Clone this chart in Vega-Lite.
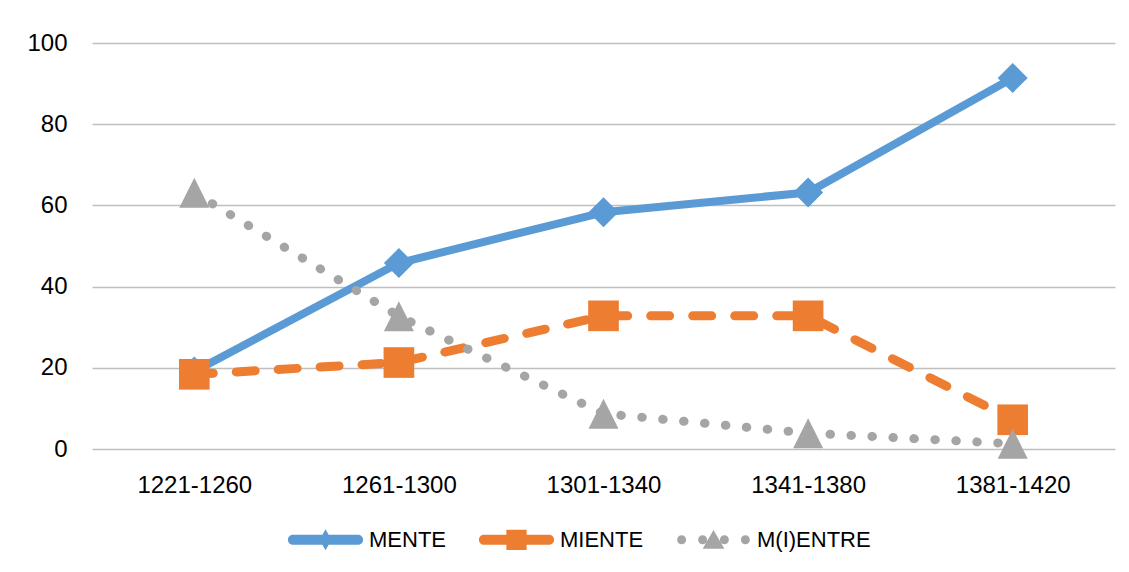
{
  "$schema": "https://vega.github.io/schema/vega-lite/v6.json",
  "width": 1023,
  "height": 406,
  "autosize": {"type": "none"},
  "padding": {"left": 92, "top": 43, "right": 14, "bottom": 123},
  "background": "white",
  "config": {"view": {"stroke": null}, "font": "Liberation Sans"},
  "data": {
    "values": [
      {"period": "1221-1260", "series": "MENTE", "value": 19.1},
      {"period": "1261-1300", "series": "MENTE", "value": 45.8},
      {"period": "1301-1340", "series": "MENTE", "value": 58.3},
      {"period": "1341-1380", "series": "MENTE", "value": 63.2},
      {"period": "1381-1420", "series": "MENTE", "value": 91.4},
      {"period": "1221-1260", "series": "MIENTE", "value": 18.4},
      {"period": "1261-1300", "series": "MIENTE", "value": 21.3},
      {"period": "1301-1340", "series": "MIENTE", "value": 32.8},
      {"period": "1341-1380", "series": "MIENTE", "value": 32.8},
      {"period": "1381-1420", "series": "MIENTE", "value": 7.2},
      {"period": "1221-1260", "series": "M(I)ENTRE", "value": 63.1},
      {"period": "1261-1300", "series": "M(I)ENTRE", "value": 32.7},
      {"period": "1301-1340", "series": "M(I)ENTRE", "value": 8.7},
      {"period": "1341-1380", "series": "M(I)ENTRE", "value": 3.9},
      {"period": "1381-1420", "series": "M(I)ENTRE", "value": 1.3}
    ]
  },
  "encoding": {
    "x": {
      "field": "period", "type": "ordinal",
      "scale": {"domain": ["1221-1260", "1261-1300", "1301-1340", "1341-1380", "1381-1420"]},
      "axis": {"title": null, "labelAngle": 0, "domain": false, "ticks": false, "tickSize": 0, "grid": false,
               "labelFontSize": 24, "labelFont": "Liberation Sans", "labelColor": "#000000", "labelPadding": 24}
    },
    "y": {
      "field": "value", "type": "quantitative",
      "scale": {"domain": [0, 100], "nice": false, "zero": true},
      "axis": {"title": null, "values": [0, 20, 40, 60, 80, 100], "domain": false, "ticks": false, "tickSize": 0,
               "grid": true, "gridColor": "#BFBFBF", "gridWidth": 1.3,
               "labelFontSize": 24, "labelFont": "Liberation Sans", "labelColor": "#000000", "labelPadding": 25}
    }
  },
  "layer": [
    {
      "transform": [{"filter": "datum.series === 'MENTE'"}],
      "mark": {"type": "line", "strokeWidth": 8, "strokeCap": "round", "strokeJoin": "round", "color": "#5B9BD5"},
      "encoding": {}
    },
    {
      "transform": [{"filter": "datum.series === 'MIENTE'"}],
      "mark": {"type": "line", "strokeWidth": 9, "strokeCap": "round", "strokeJoin": "round", "color": "#ED7D31", "strokeDash": [19, 23]},
      "encoding": {}
    },
    {
      "transform": [{"filter": "datum.series === 'M(I)ENTRE'"}],
      "mark": {"type": "line", "strokeWidth": 9, "strokeCap": "round", "strokeJoin": "round", "color": "#A5A5A5", "strokeDash": [0.5, 20.5]},
      "encoding": {}
    },
    {
      "transform": [{"filter": "datum.series === 'MENTE'"}],
      "mark": {"type": "point", "shape": "diamond", "filled": true, "size": 900, "color": "#5B9BD5", "opacity": 1, "strokeWidth": 0}
    },
    {
      "transform": [{"filter": "datum.series === 'MIENTE'"}],
      "mark": {"type": "point", "shape": "square", "filled": true, "size": 940, "color": "#ED7D31", "opacity": 1, "strokeWidth": 0}
    },
    {
      "transform": [{"filter": "datum.series === 'M(I)ENTRE'"}],
      "mark": {"type": "point", "shape": "M0,-1 L1,1 L-1,1 Z", "filled": true, "size": 900, "color": "#A5A5A5", "opacity": 1, "strokeWidth": 0}
    },
    {
      "mark": {"type": "point", "filled": true, "opacity": 0, "strokeWidth": 0},
      "encoding": {
        "color": {"field": "series", "type": "nominal",
                  "scale": {"domain": ["MENTE", "MIENTE", "M(I)ENTRE"], "range": ["#5B9BD5", "#ED7D31", "#A5A5A5"]},
                  "legend": {"title": null, "orient": "none", "direction": "horizontal", "legendX": 196, "legendY": 459,
                             "labelFontSize": 22, "labelFont": "Liberation Sans", "labelColor": "#000000",
                             "symbolSize": 5625, "labelOffset": 6, "columnPadding": 32, "symbolStrokeWidth": 0,
                             "symbolOpacity": 1,
                             "encode": {"symbols": {"update": {"opacity": {"value": 1}}}}}},
        "shape": {"field": "series", "type": "nominal",
                  "scale": {"domain": ["MENTE", "MIENTE", "M(I)ENTRE"],
                            "range": [
                              "M-0.87,-0.133 L0.87,-0.133 A0.133,0.133 0 0 1 0.87,0.133 L-0.87,0.133 A0.133,0.133 0 0 1 -0.87,-0.133 Z M0,-0.28 L0.16,0 L0,0.28 L-0.16,0 Z",
                              "M-0.87,-0.133 L0.87,-0.133 A0.133,0.133 0 0 1 0.87,0.133 L-0.87,0.133 A0.133,0.133 0 0 1 -0.87,-0.133 Z M-0.27,-0.27 L0.27,-0.27 L0.27,0.27 L-0.27,0.27 Z",
                              "M-0.97,0 A0.12,0.12 0 1 1 -0.73,0 A0.12,0.12 0 1 1 -0.97,0 Z M-0.41,0 A0.12,0.12 0 1 1 -0.17,0 A0.12,0.12 0 1 1 -0.41,0 Z M0.17,0 A0.12,0.12 0 1 1 0.41,0 A0.12,0.12 0 1 1 0.17,0 Z M0.73,0 A0.12,0.12 0 1 1 0.97,0 A0.12,0.12 0 1 1 0.73,0 Z M0,-0.26 L0.29,0.24 L-0.29,0.24 Z"
                            ]},
                  "legend": {"title": null, "orient": "none", "direction": "horizontal", "legendX": 196, "legendY": 459,
                             "labelFontSize": 22, "labelFont": "Liberation Sans", "labelColor": "#000000",
                             "symbolSize": 5625, "labelOffset": 6, "columnPadding": 32, "symbolStrokeWidth": 0,
                             "symbolOpacity": 1,
                             "encode": {"symbols": {"update": {"opacity": {"value": 1}}}}}}
      }
    }
  ]
}
